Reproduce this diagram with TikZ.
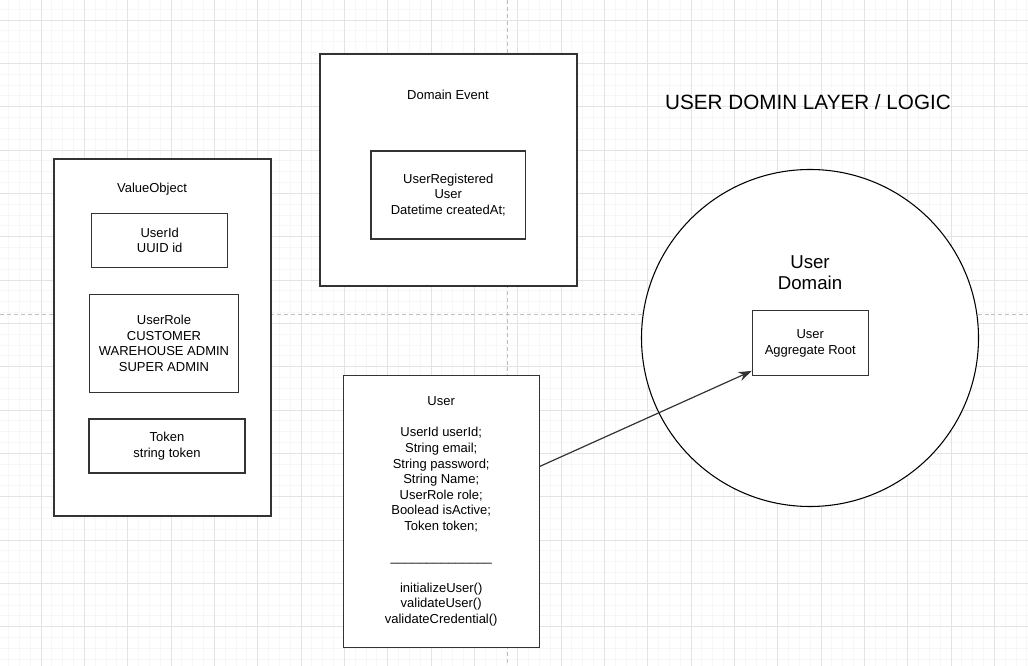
\documentclass[tikz,border=0pt]{standalone}
\usepackage{fontspec}
\setmainfont{Liberation Sans}
\usetikzlibrary{arrows.meta,calc}

\tikzset{
  box/.style={draw=black!80, fill=white, line width=0.8pt, rectangle, inner sep=0pt, align=center,
    font=\fontsize{9.75pt}{11.65pt}\selectfont},
  txt/.style={inner sep=0pt, align=center, font=\fontsize{9.75pt}{11.65pt}\selectfont},
  minorline/.style={draw=black!3, line width=0.6pt},
  majorline/.style={draw=black!11, line width=0.6pt},
  pagebreak/.style={draw=black!25, line width=0.6pt, dash pattern=on 3pt off 2.2pt}
}

\begin{document}
\begin{tikzpicture}[x=0.75pt, y=-0.75pt]
\useasboundingbox (0,0) rectangle (1028,666);
\fill[white] (0,0) rectangle (1028,666);

% grid
\begin{scope}
\clip (0,0) rectangle (1028,666);
\foreach \i in {0,...,96} \draw[minorline] ({-2.33+\i*10.833},0) -- ++(0,666);
\foreach \i in {0,...,62} \draw[minorline] (0,{-1.67+\i*10.833}) -- ++(1028,0);
\foreach \i in {0,...,23} \draw[majorline] ({41+\i*43.33},0) -- ++(0,666);
\foreach \i in {0,...,15} \draw[majorline] (0,{20+\i*43.33}) -- ++(1028,0);
\draw[pagebreak] (507,0) -- (507,666);
\draw[pagebreak] (0,314) -- (1028,314);
\end{scope}

% value objects
\node (vobox) [box, minimum width=162.75pt, minimum height=267.75pt] at (162.5,337.5) {};
\node (votitle) [txt] at (152,189) {ValueObject};
\node (userid) [box, minimum width=102pt, minimum height=40.5pt] at (159.7,240.5) {UserId\\UUID id};
\node (userrole) [box, minimum width=112pt, minimum height=73.5pt] at (164,343.3) {UserRole\\CUSTOMER\\WAREHOUSE ADMIN\\SUPER ADMIN};
\node (token) [box, minimum width=117pt, minimum height=40.5pt] at (167,446) {Token\\string token};

% domain event
\node (evbox) [box, minimum width=192.75pt, minimum height=174pt] at (448.5,170) {};
\node (evtitle) [txt] at (448,95) {Domain Event};
\node (userreg) [box, minimum width=116pt, minimum height=66pt] at (448.3,195) {UserRegistered\\User\\Datetime createdAt;};

% entity
\node (userbox) [box, minimum width=146.75pt, minimum height=203.7pt] at (441.2,511.5)
  {User\\[11.65pt]UserId userId;\\String email;\\String password;\\String Name;\\UserRole role;\\Boolead isActive;\\Token token;\\[11.65pt]\_\_\_\_\_\_\_\_\_\_\_\_\_\_\\[11.65pt]initializeUser()\\validateUser()\\validateCredential()};

% domain
\node (title) [txt, font=\fontsize{15.5pt}{18pt}\selectfont] at (808,102) {USER DOMIN LAYER / LOGIC};
\node (domain) [circle, draw=black, fill=white, line width=0.8pt, minimum size=252.75pt, inner sep=0pt] at (810,338) {};
\node (domtitle) [txt, font=\fontsize{14pt}{15.6pt}\selectfont] at (810,273) {User\\Domain};
\node (aggroot) [box, minimum width=87pt, minimum height=48.75pt] at (810.3,343.2) {User\\Aggregate Root};

% Arrows
\draw[-{Stealth[length=10pt, width=7pt]}, draw=black!80, line width=0.9pt]
  ($(userbox.north east)!0.335!(userbox.south east)$) -- ($(aggroot.south west)!0.08!(aggroot.north west)$);
\end{tikzpicture}
\end{document}
